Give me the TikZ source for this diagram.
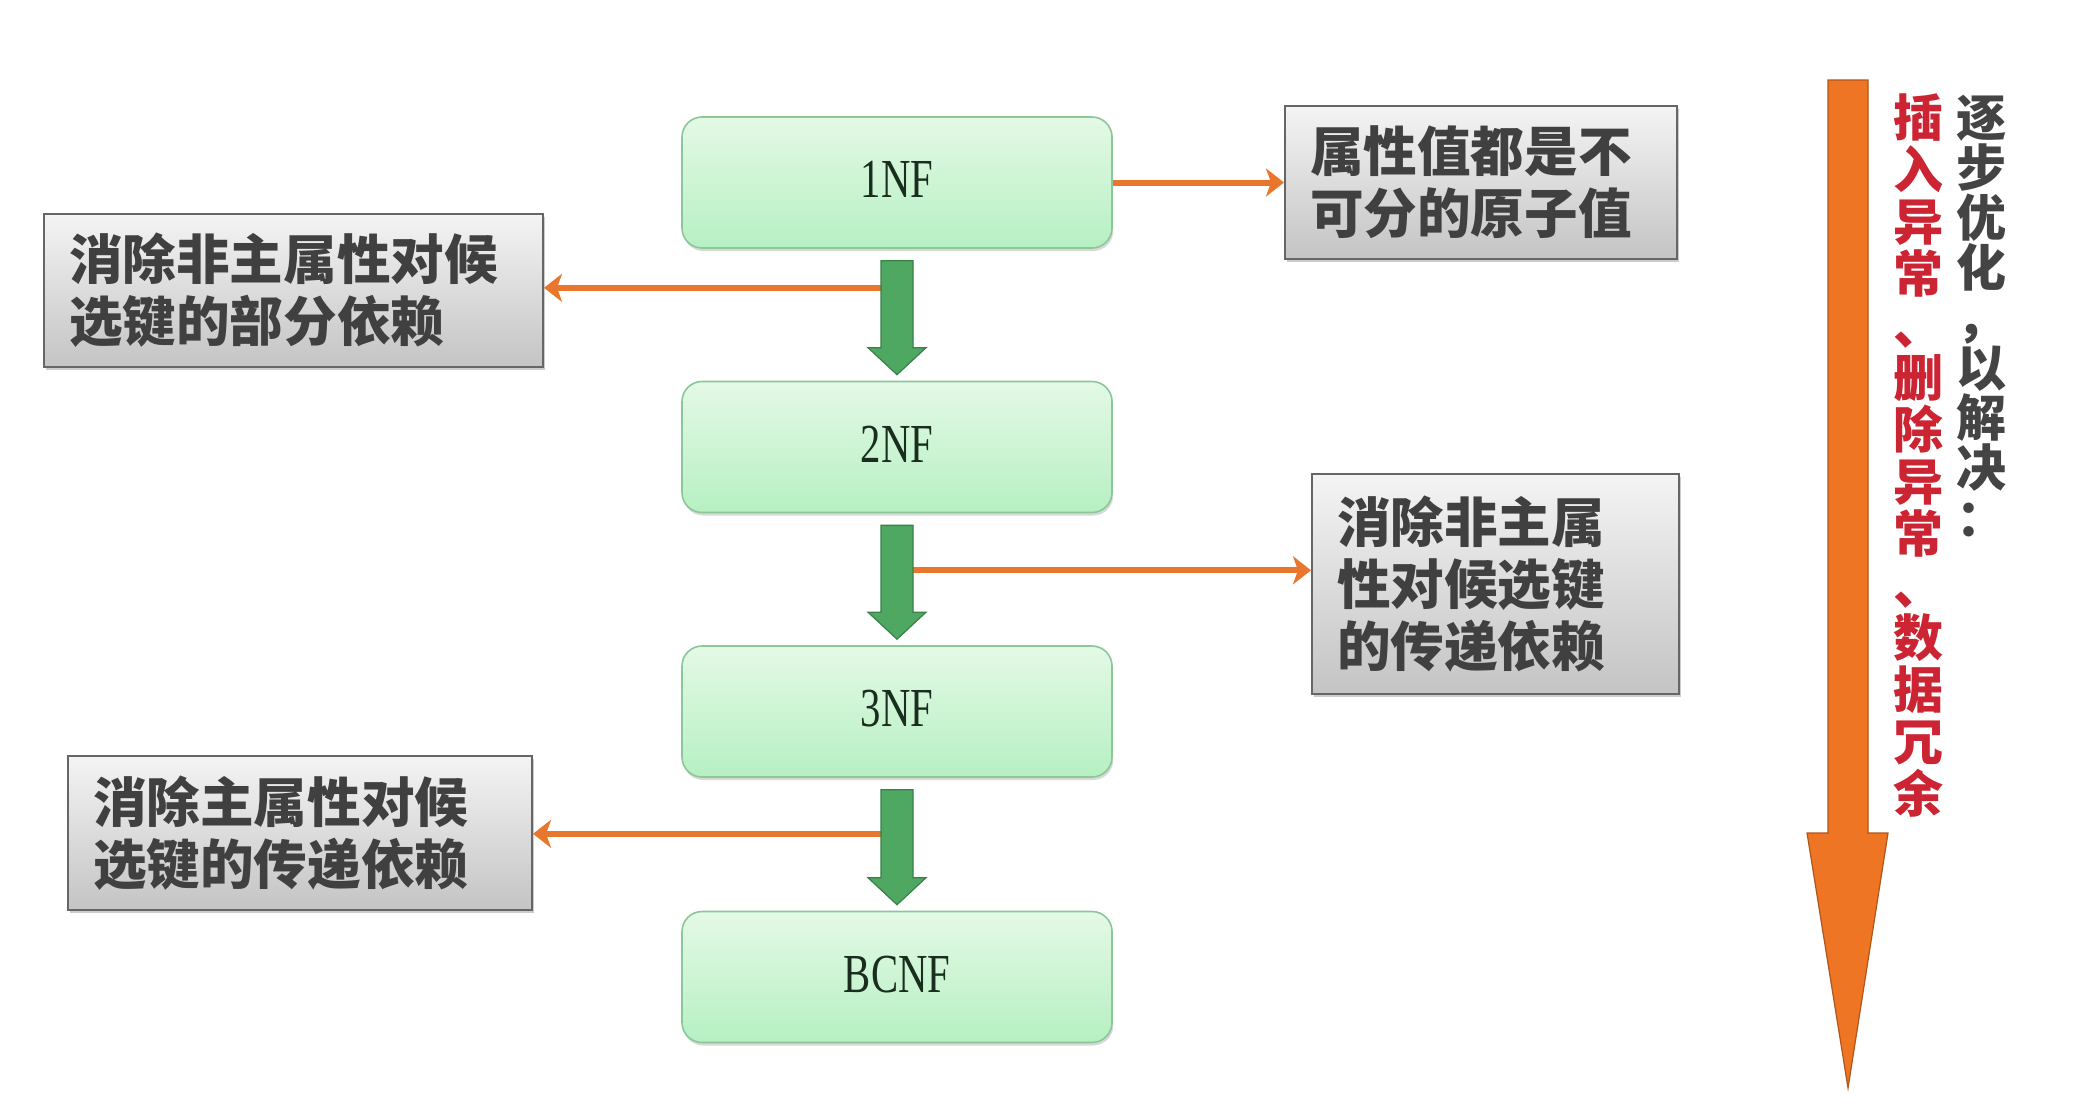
\documentclass[tikz,border=0pt]{standalone}
\usepackage{fontspec}
\newfontfamily\cjk{Noto Sans CJK SC}
\newfontfamily\nffont{Liberation Serif}[FakeStretch=0.74]
\usetikzlibrary{arrows.meta,shadows,calc}
\definecolor{orangeL}{HTML}{E8762C}
\definecolor{bigorange}{HTML}{EE7523}
\definecolor{bigorangeD}{HTML}{B0561A}
\definecolor{nftop}{HTML}{E4F9E6}
\definecolor{nfbot}{HTML}{B6F0C2}
\definecolor{nfborder}{HTML}{8CC79A}
\definecolor{nftext}{HTML}{1A2E20}
\definecolor{gtop}{HTML}{F4F4F4}
\definecolor{gbot}{HTML}{C4C4C4}
\definecolor{gborder}{HTML}{666666}
\definecolor{gtext}{HTML}{404040}
\definecolor{garrow}{HTML}{4FA862}
\definecolor{garrowD}{HTML}{3A8049}
\definecolor{redtxt}{HTML}{CC2433}
\definecolor{blktxt}{HTML}{444444}
\begin{document}
\begin{tikzpicture}[x=0.5pt,y=-0.5pt,
  nfbox/.style={rounded corners=10pt, draw=nfborder, line width=0.8pt,
    top color=nftop, bottom color=nfbot, minimum width=215pt, minimum height=65.5pt,
    font=\nffont\fontsize{27.5}{30}\selectfont, text=nftext,
    drop shadow={shadow xshift=0.6pt, shadow yshift=-1.5pt, opacity=0.3}},
  graybox/.style={draw=gborder, line width=1pt, top color=gtop, bottom color=gbot,
    align=left, inner xsep=12.5pt, inner ysep=0pt,
    font=\cjk\bfseries\fontsize{26.8}{31}\selectfont, text=gtext,
    drop shadow={shadow xshift=0.8pt, shadow yshift=-1.5pt, opacity=0.4}},
  orarrow/.style={draw=orangeL, line width=3pt,
    -{Stealth[length=9pt,width=14pt,inset=2.5pt]}},
  greenarr/.style={fill=garrow, draw=garrowD, line width=0.6pt, line join=miter},
  vcol/.style={anchor=north, inner sep=0pt, align=center}
]
\useasboundingbox[fill=white] (0,0) rectangle (2080,1110);

% normal form boxes
\node[nfbox] (n1) at (897,182.5) {\raisebox{3pt}{1NF}};
\node[nfbox] (n2) at (897,447) {\raisebox{3pt}{2NF}};
\node[nfbox] (n3) at (897,711.5) {\raisebox{3pt}{3NF}};
\node[nfbox] (n4) at (897,977) {\raisebox{3pt}{BCNF}};

% gray note boxes
\node[graybox, text width=224.5pt, minimum height=76.5pt] (L1) at (293.5,290.5)
  {消除非主属性对候\\选键的部分依赖};
\node[graybox, text width=171pt, minimum height=76.5pt] (R1) at (1481,182.5)
  {属性值都是不\\可分的原子值};
\node[graybox, text width=158.5pt, minimum height=110pt] (R2) at (1495.5,584)
  {消除非主属\\性对候选键\\的传递依赖};
\node[graybox, text width=207pt, minimum height=77pt] (L3) at (300,833)
  {消除主属性对候\\选键的传递依赖};

% orange connectors
\coordinate (s1) at ($(n1.south)+(-16,39)$);
\coordinate (s2) at ($(n2.south)+(16,57)$);
\coordinate (s3) at ($(n3.south)+(-16,56)$);
\draw[orarrow] (n1.east) -- (R1.west);
\draw[orarrow] (s1) -- (s1 -| L1.east);
\draw[orarrow] (s2) -- (s2 -| R2.west);
\draw[orarrow] (s3) -- (s3 -| L3.east);

% green block arrows
\foreach \a/\b in {n1/n2, n2/n3, n3/n4}{
  \path[greenarr] ($(\a.south)+(-16,12)$) -- ($(\a.south)+(16,12)$)
    -- ($(\b.north)+(16,-33)$) -- ($(\b.north)+(29,-33)$)
    -- ($(\b.north)+(0,-6)$) -- ($(\b.north)+(-29,-33)$)
    -- ($(\b.north)+(-16,-33)$) -- cycle;
}

% big orange arrow
\path[fill=bigorange, draw=bigorangeD, line width=0.6pt, line join=miter]
  (1828,80) -- (1868,80) -- (1868,833) -- (1888,833) -- (1848,1088)
  -- (1807,833) -- (1828,833) -- cycle;

% vertical texts
\node[vcol, font=\cjk\bfseries\fontsize{25}{26}\selectfont, text=redtxt] (vred) at (1918,93)
  {插\\入\\异\\常\\、\\删\\除\\异\\常\\、\\数\\据\\冗\\余};
\node[vcol, font=\cjk\bfseries\fontsize{25}{25}\selectfont, text=blktxt] (vblk) at (1981,95)
  {逐\\步\\优\\化\\，\\以\\解\\决\\：};
\end{tikzpicture}
\end{document}
